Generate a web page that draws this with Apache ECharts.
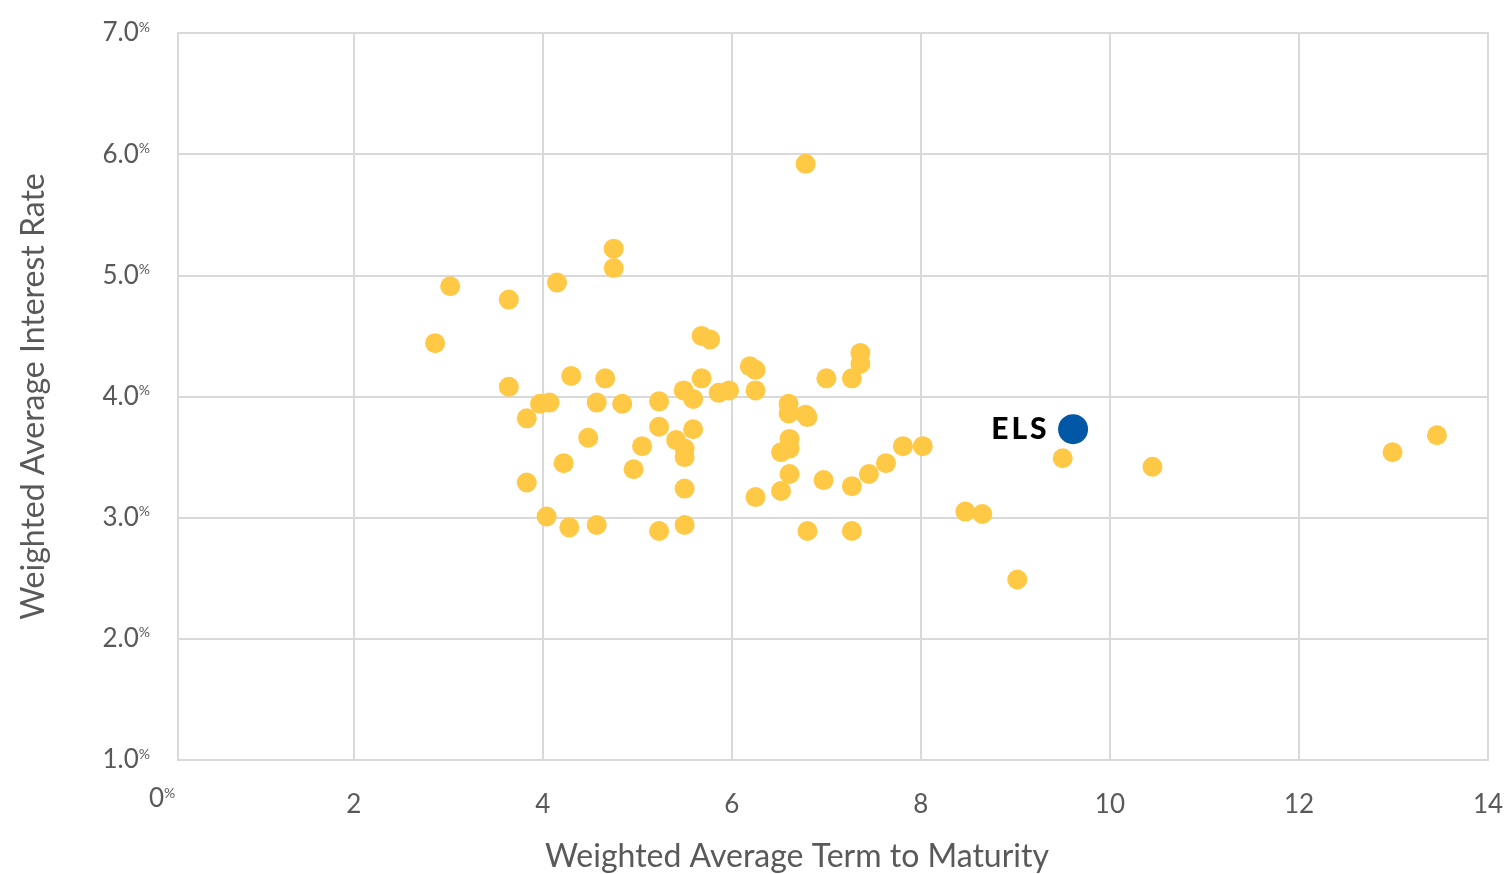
<!DOCTYPE html>
<html>
<head>
<meta charset="utf-8">
<title>Weighted Average Interest Rate vs Term to Maturity</title>
<script src="https://cdn.jsdelivr.net/npm/echarts@6/dist/echarts.min.js"></script>
<style>
  html, body { margin: 0; padding: 0; background: #ffffff; }
  #chart { width: 1506px; height: 874px; }
</style>
</head>
<body>
<div id="chart"></div>
<script>
// Peer portfolios: weighted average term to maturity (years) and rate (%)
const peerTerm = [
  6.78, 4.75, 4.75, 3.02, 4.15, 3.64, 2.86, 5.68, 5.77, 3.64,
  4.30, 4.66, 5.68, 6.19, 6.25, 7.36, 7.36, 7.00, 7.27, 5.49,
  5.23, 5.59, 5.86, 5.97, 6.25, 3.97, 4.07, 4.57, 4.84, 6.60,
  6.60, 6.78, 3.83, 5.23, 5.59, 4.48, 5.41, 5.50, 5.50, 5.05,
  6.61, 6.61, 6.52, 4.22, 4.96, 6.61, 3.83, 5.50, 6.25, 6.52,
  6.97, 7.27, 7.45, 7.63, 7.81, 8.02, 9.50, 10.45, 12.99, 13.46,
  4.04, 4.28, 4.57, 5.23, 5.50, 6.80, 7.27, 8.47, 8.65, 9.02,
  6.80
];
const peerRate = [
  5.92, 5.22, 5.06, 4.91, 4.94, 4.80, 4.44, 4.50, 4.47, 4.08,
  4.17, 4.15, 4.15, 4.25, 4.22, 4.36, 4.27, 4.15, 4.15, 4.05,
  3.96, 3.98, 4.03, 4.05, 4.05, 3.94, 3.95, 3.95, 3.94, 3.94,
  3.86, 3.85, 3.82, 3.75, 3.73, 3.66, 3.64, 3.57, 3.50, 3.59,
  3.65, 3.57, 3.54, 3.45, 3.40, 3.36, 3.29, 3.24, 3.17, 3.22,
  3.31, 3.26, 3.36, 3.45, 3.59, 3.59, 3.49, 3.42, 3.54, 3.68,
  3.01, 2.92, 2.94, 2.89, 2.94, 2.89, 2.89, 3.05, 3.03, 2.49,
  3.83
];

// Highlighted company
const elsName = 'ELS';
const elsTerm = 9.61;
const elsRate = 3.73;

// Axis ticks
const termTicks = [2, 4, 6, 8, 10, 12, 14];
const rateTicks = [1, 2, 3, 4, 5, 6, 7];

const xTitle = 'Weighted Average Term to Maturity';
const yTitle = 'Weighted Average Interest Rate';

const FONT = 'Lato, "Noto Sans", sans-serif';
const GREY = '#595959';
const GRID = '#d9d9d9';

const peerData = peerTerm.map((t, i) => [t, peerRate[i]]);

const chart = echarts.init(document.getElementById('chart'), null, { renderer: 'canvas' });

chart.setOption({
  backgroundColor: '#ffffff',
  animation: false,
  textStyle: { fontFamily: FONT },
  grid: {
    left: 178, right: 18, top: 33, bottom: 114,
    outerBoundsMode: 'none',
    show: true, borderColor: GRID, borderWidth: 2
  },
  xAxis: {
    type: 'value',
    min: 0.14,
    max: 14,
    name: xTitle,
    nameLocation: 'middle',
    nameGap: 81,
    nameTextStyle: { fontFamily: FONT, fontSize: 32, color: GREY, padding: [0, 72, 0, 0] },
    axisLine: { show: false },
    axisTick: { show: false, customValues: termTicks },
    axisLabel: {
      customValues: termTicks,
      fontFamily: FONT, fontSize: 26, color: GREY, margin: 32
    },
    splitLine: { show: true, lineStyle: { color: GRID, width: 2 } }
  },
  yAxis: {
    type: 'value',
    min: rateTicks[0],
    max: rateTicks[rateTicks.length - 1],
    interval: 1,
    name: yTitle,
    nameLocation: 'middle',
    nameGap: 128,
    nameTextStyle: { fontFamily: FONT, fontSize: 32, color: GREY },
    axisLine: { show: false },
    axisTick: { show: false },
    axisLabel: {
      margin: 28,
      formatter: v => '{v|' + v.toFixed(1) + '}{p|%}',
      rich: {
        v: { fontFamily: FONT, fontSize: 26, color: GREY },
        p: { fontFamily: FONT, fontSize: 14, color: GREY, verticalAlign: 'top' }
      }
    },
    splitLine: { show: true, lineStyle: { color: GRID, width: 2 } }
  },
  graphic: [{
    type: 'text',
    left: 149,
    top: 786,
    style: {
      text: '{v|0}{p|%}',
      rich: {
        v: { fontFamily: FONT, fontSize: 26, fill: GREY },
        p: { fontFamily: FONT, fontSize: 14, fill: GREY, verticalAlign: 'top' }
      }
    }
  }],
  series: [
    {
      name: 'Peers',
      type: 'scatter',
      symbolSize: 20,
      itemStyle: { color: '#FFC845', opacity: 1 },
      data: peerData,
      z: 2
    },
    {
      name: elsName,
      type: 'scatter',
      symbolSize: 30,
      itemStyle: { color: '#0057A6', opacity: 1 },
      label: {
        show: true,
        position: 'left',
        distance: 10,
        formatter: '{a|E}{a|L}{a|S}',
        rich: {
          a: { fontFamily: FONT, fontSize: 30, fontWeight: 900, color: '#000000', padding: [0, 1.5, 0, 1.5] }
        }
      },
      data: [[elsTerm, elsRate]],
      z: 3
    }
  ]
});
</script>
</body>
</html>
